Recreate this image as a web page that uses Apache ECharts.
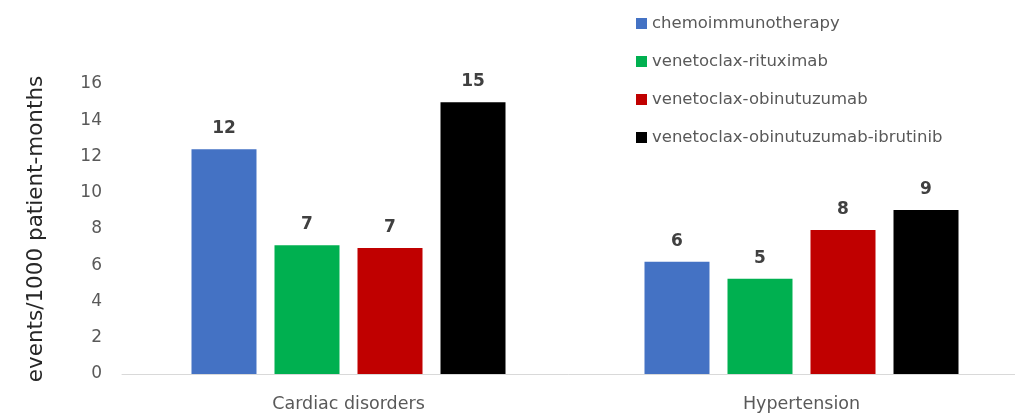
<!DOCTYPE html>
<html>
<head>
<meta charset="utf-8">
<script src="https://cdn.jsdelivr.net/npm/echarts@6/dist/echarts.min.js"></script>
<style>
  html, body { margin: 0; padding: 0; background: #fff; }
  #chart { width: 1015px; height: 414px; }
</style>
</head>
<body>
<div id="chart"></div>
<script>
// Adverse event rates per treatment, events per 1000 patient-months
const categories = ['Cardiac disorders', 'Hypertension'];
const seriesNames = [
  'chemoimmunotherapy',
  'venetoclax-rituximab',
  'venetoclax-obinutuzumab',
  'venetoclax-obinutuzumab-ibrutinib'
];
const chemoimmunotherapy = [12.4, 6.2];
const venetoclaxRituximab = [7.1, 5.25];
const venetoclaxObinutuzumab = [6.95, 7.95];
const venetoclaxObinutuzumabIbrutinib = [15.0, 9.05];
const yTicks = { min: 0, max: 16, interval: 2 };
const colors = ['#4472c4', '#00b050', '#c00000', '#000000'];

const seriesValues = [
  chemoimmunotherapy,
  venetoclaxRituximab,
  venetoclaxObinutuzumab,
  venetoclaxObinutuzumabIbrutinib
];

const FONT = 'DejaVu Sans';

const chart = echarts.init(document.getElementById('chart'), null, { renderer: 'canvas' });
chart.setOption({
  animation: false,
  textStyle: { fontFamily: FONT },
  color: colors,
  legend: {
    orient: 'vertical',
    left: 631,
    top: 10,
    itemWidth: 11,
    itemHeight: 11,
    itemGap: 21,
    icon: 'rect',
    textStyle: { fontFamily: FONT, fontSize: 16.5, color: '#595959' },
    data: seriesNames
  },
  grid: {
    left: 122, top: 84, width: 906, height: 290,
    containLabel: false,
    outerBoundsMode: 'none'
  },
  xAxis: {
    type: 'category',
    data: categories,
    axisLine: { lineStyle: { color: '#d9d9d9', width: 1 } },
    axisTick: { show: false },
    axisLabel: { color: '#595959', fontSize: 17.5, fontFamily: FONT, margin: 21 }
  },
  yAxis: {
    type: 'value',
    min: yTicks.min,
    max: yTicks.max,
    interval: yTicks.interval,
    name: 'events/1000 patient-months',
    nameLocation: 'middle',
    nameGap: 75,
    nameTextStyle: { color: '#262626', fontSize: 21.5, fontFamily: FONT },
    axisLine: { show: false },
    axisTick: { show: false },
    splitLine: { show: false },
    axisLabel: { color: '#595959', fontSize: 17, fontFamily: FONT, margin: 20 }
  },
  series: seriesNames.map((name, i) => ({
    name,
    type: 'bar',
    data: seriesValues[i],
    barWidth: 65,
    barGap: '27.7%',
    itemStyle: { color: colors[i] },
    label: {
      show: true,
      position: 'top',
      distance: 12,
      color: '#404040',
      fontSize: 17,
      fontWeight: 'bold',
      fontFamily: FONT,
      formatter: p => String(Math.round(p.value))
    }
  }))
});
</script>
</body>
</html>
